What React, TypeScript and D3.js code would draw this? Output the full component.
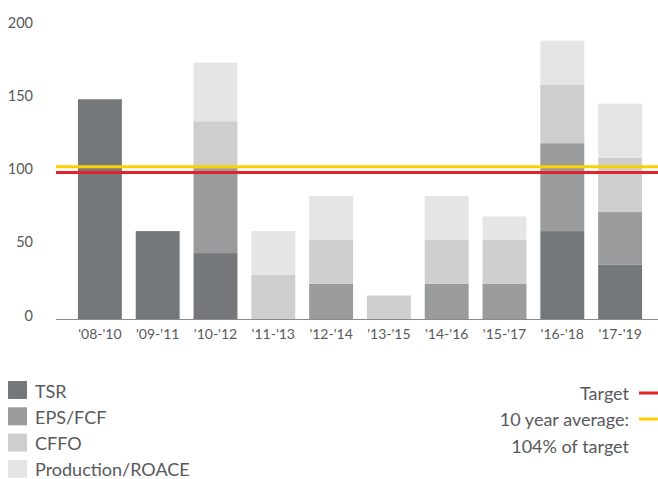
import React from "react";
import * as d3 from "d3";

const categories = ["'08-'10", "'09-'11", "'10-'12", "'11-'13", "'12-'14", "'13-'15", "'14-'16", "'15-'17", "'16-'18", "'17-'19"];
const tsr = [150, 60, 45, 0, 0, 0, 0, 0, 60, 37];
const epsFcf = [0, 0, 58, 0, 24, 0, 24, 24, 60, 36];
const cffo = [0, 0, 32, 30, 30, 16, 30, 30, 40, 37];
const production = [0, 0, 40, 30, 30, 0, 30, 16, 30, 37];
const seriesNames = ["TSR", "EPS/FCF", "CFFO", "Production/ROACE"];
const seriesColors = ["#75787b", "#9a9b9c", "#cdcecd", "#e4e5e4"];
const yTicks = [0, 50, 100, 150, 200];
const targetValue = 100;
const averageValue = 104;

const W = 658;
const H = 479;
const FONT = "Lato, 'Open Sans', sans-serif";
const TEXT = "#58595b";

export default function App() {
  const y = d3.scaleLinear().domain([0, 200]).range([319, 26]);
  const x = d3.scaleBand<string>().domain(categories).range([71, 649]).paddingInner(0.24).paddingOuter(0.12);

  const rows = categories.map((c, i) => ({ cat: c, s0: tsr[i], s1: epsFcf[i], s2: cffo[i], s3: production[i] }));
  const stacked = d3.stack<any>().keys(["s0", "s1", "s2", "s3"])(rows);

  return (
    <svg width={W} height={H} style={{ position: "absolute", left: 0, top: 0 }} fontFamily={FONT}>
      {yTicks.map((t) => (
        <text key={t} x={33} y={y(t) - 4} textAnchor="end" dominantBaseline="central" fontSize={14.5} fill={TEXT}>
          {t}
        </text>
      ))}
      {stacked.map((layer, li) => (
        <g key={li} fill={seriesColors[li]}>
          {layer.map((d, i) =>
            d[1] - d[0] > 0 ? (
              <rect key={i} x={x(categories[i])} width={x.bandwidth()} y={y(d[1])} height={y(d[0]) - y(d[1])} />
            ) : null
          )}
        </g>
      ))}
      <line x1={56} x2={658} y1={319.5} y2={319.5} stroke="#8a8b8c" strokeWidth={1.2} />
      {categories.map((c) => (
        <text key={c} x={(x(c) as number) + x.bandwidth() / 2} y={333} textAnchor="middle" dominantBaseline="central" fontSize={14} fill={TEXT}>
          {c}
        </text>
      ))}
      <line x1={56} x2={658} y1={y(averageValue)} y2={y(averageValue)} stroke="#fdd100" strokeWidth={3} />
      <line x1={56} x2={658} y1={y(targetValue)} y2={y(targetValue)} stroke="#e4222b" strokeWidth={3} />

      {seriesNames.map((n, i) => (
        <g key={n}>
          <rect x={8} y={381 + i * 26.3} width={19} height={18} fill={seriesColors[i]} />
          <text x={35} y={391 + i * 26} dominantBaseline="central" fontSize={18} fill={TEXT}>
            {n}
          </text>
        </g>
      ))}

      <text x={629} y={393} textAnchor="end" dominantBaseline="central" fontSize={18} fill={TEXT}>Target</text>
      <line x1={639} x2={658} y1={393} y2={393} stroke="#e4222b" strokeWidth={3} />
      <text x={629} y={419} textAnchor="end" dominantBaseline="central" fontSize={18} fill={TEXT}>10 year average:</text>
      <line x1={639} x2={658} y1={419} y2={419} stroke="#fdd100" strokeWidth={3} />
      <text x={629} y={446} textAnchor="end" dominantBaseline="central" fontSize={18} fill={TEXT}>104% of target</text>
    </svg>
  );
}
